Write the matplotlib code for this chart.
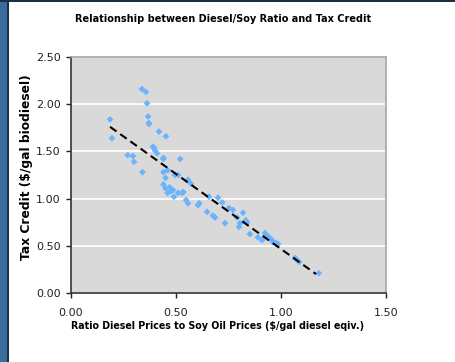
import numpy as np
import matplotlib
matplotlib.use("Agg")
import matplotlib.pyplot as plt
from matplotlib.patches import Rectangle

# diesel / soy oil price ratio and the matching tax credit
ratio = [0.186, 0.195, 0.270, 0.295, 0.300, 0.338, 0.340, 0.357, 0.362, 0.367,
         0.371, 0.372, 0.390, 0.395, 0.400, 0.410, 0.419, 0.440, 0.440, 0.440,
         0.440, 0.450, 0.452, 0.450, 0.460, 0.460, 0.470, 0.476, 0.486, 0.490,
         0.495, 0.510, 0.510, 0.520, 0.530, 0.535, 0.548, 0.557, 0.557, 0.570,
         0.605, 0.610, 0.648, 0.657, 0.676, 0.686, 0.700, 0.720, 0.733, 0.752,
         0.771, 0.790, 0.805, 0.800, 0.819, 0.833, 0.838, 0.852, 0.890, 0.910,
         0.924, 0.933, 0.938, 0.948, 0.957, 0.962, 0.976, 0.986, 1.067, 1.076,
         1.086, 1.180]
credit = [1.84, 1.64, 1.46, 1.45, 1.39, 2.16, 1.28, 2.13, 2.01, 1.87,
          1.80, 1.79, 1.55, 1.54, 1.51, 1.48, 1.71, 1.43, 1.28, 1.15,
          1.42, 1.22, 1.66, 1.11, 1.30, 1.06, 1.12, 1.08, 1.09, 1.02,
          1.25, 1.06, 1.25, 1.42, 1.06, 1.07, 0.985, 0.95, 1.20, 1.16,
          0.93, 0.95, 0.86, 1.02, 0.82, 0.80, 1.01, 0.96, 0.74, 0.90,
          0.88, 0.80, 0.74, 0.70, 0.85, 0.77, 0.75, 0.625, 0.59, 0.56,
          0.635, 0.61, 0.59, 0.58, 0.56, 0.54, 0.53, 0.52, 0.37, 0.35,
          0.33, 0.21]

# linear trendline (slope, intercept) and the x range it covers
trend_coef = [-1.59, 2.056]
trend_x = [0.186, 1.167]

x = np.array(ratio)
y = np.array(credit)
xfit = np.array(trend_x)

fig = plt.figure(figsize=(4.56, 3.62), dpi=100)
fig.patch.set_facecolor("white")
# blue strip and dark edge on the left, thin line along the top
fig.add_artist(Rectangle((0, 0), 7.5 / 456, 1, transform=fig.transFigure,
                         facecolor="#3A6C9E", edgecolor="none"))
fig.add_artist(Rectangle((7.5 / 456, 0), 1.5 / 456, 1, transform=fig.transFigure,
                         facecolor="#1E2D45", edgecolor="none"))
fig.add_artist(Rectangle((0, 1 - 1.5 / 362), 1, 1.5 / 362, transform=fig.transFigure,
                         facecolor="#1E2D45", edgecolor="none"))

ax = fig.add_axes([71 / 456, 1 - 293 / 362, 315 / 456, 236 / 362])
ax.set_facecolor("#D9D9D9")
ax.set_xlim(0, 1.5)
ax.set_ylim(0, 2.5)
ax.set_xticks(np.arange(0, 1.51, 0.5))
ax.set_yticks(np.arange(0, 2.51, 0.5))
ax.set_xticklabels([f"{v:.2f}" for v in ax.get_xticks()])
ax.set_yticklabels([f"{v:.2f}" for v in ax.get_yticks()])
ax.yaxis.grid(True, color="white", linewidth=1.2)
ax.set_axisbelow(True)
ax.tick_params(labelsize=8, length=3.5, width=1, colors="#222222")
ax.tick_params(axis="x", pad=7)
ax.tick_params(axis="y", pad=4)

for side in ["top", "right"]:
    ax.spines[side].set_color("#A6A6A6")
    ax.spines[side].set_linewidth(1.2)
for side in ["left", "bottom"]:
    ax.spines[side].set_color("#333333")
    ax.spines[side].set_linewidth(1.2)

ax.scatter(x, y, marker="D", s=12, color="#6AB4FF", edgecolors="none", zorder=3)
ax.plot(xfit, trend_coef[0] * xfit + trend_coef[1], color="black", linewidth=1.5,
        linestyle=(0, (3.8, 2.2)), zorder=4)

fig.text(223 / 456, 1 - 19 / 362, "Relationship between Diesel/Soy Ratio and Tax Credit",
         ha="center", va="center", fontsize=7, fontweight="bold")
fig.text(218 / 456, 1 - 326 / 362,
         "Ratio Diesel Prices to Soy Oil Prices ($/gal diesel eqiv.)",
         ha="center", va="center", fontsize=6.85, fontweight="bold")
fig.text(27 / 456, 1 - 167 / 362, "Tax Credit ($/gal biodiesel)",
         ha="center", va="center", rotation=90, fontsize=8.8, fontweight="bold")

fig.savefig("out.png", dpi=100)
